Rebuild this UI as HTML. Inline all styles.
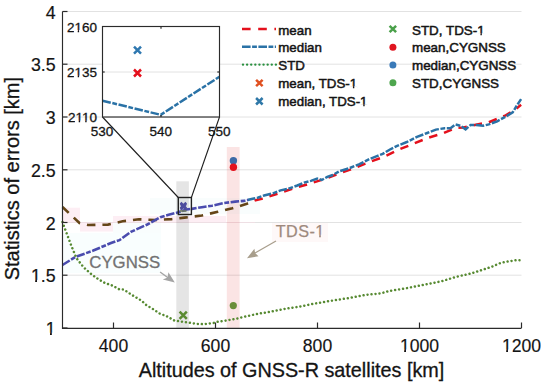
<!DOCTYPE html>
<html><head><meta charset="utf-8"><style>
html,body{margin:0;padding:0;background:#fff;width:550px;height:391px;overflow:hidden}
svg{display:block}
text{font-family:"Liberation Sans",sans-serif}
</style></head><body>
<svg width="550" height="391" viewBox="0 0 550 391">
<defs><clipPath id="cl"><rect x="0" y="0" width="254" height="391"/></clipPath><clipPath id="cr"><rect x="254" y="0" width="300" height="391"/></clipPath><clipPath id="ml"><rect x="0" y="0" width="248" height="391"/></clipPath><clipPath id="mr"><rect x="248" y="0" width="300" height="391"/></clipPath></defs>
<rect x="63" y="207.7" width="17" height="14.6" fill="#fdeef4"/>
<rect x="80" y="222" width="33" height="9.5" fill="#fdeef4"/>
<rect x="113" y="216" width="113" height="6" fill="#fdeef4"/>
<rect x="113" y="222" width="48" height="11" fill="#f9fdfd"/>
<rect x="63" y="233" width="98" height="40" fill="#f9fefe"/>
<rect x="150" y="198" width="110" height="16" fill="#f9fdfd"/>
<rect x="272" y="223" width="56" height="19" fill="#fef8f8"/>
<line x1="62.5" y1="275.2" x2="521.5" y2="275.2" stroke="#e2e2e2" stroke-width="1"/>
<line x1="62.5" y1="222.5" x2="521.5" y2="222.5" stroke="#e2e2e2" stroke-width="1"/>
<line x1="62.5" y1="169.8" x2="521.5" y2="169.8" stroke="#e2e2e2" stroke-width="1"/>
<line x1="62.5" y1="117.0" x2="521.5" y2="117.0" stroke="#e2e2e2" stroke-width="1"/>
<line x1="62.5" y1="64.2" x2="521.5" y2="64.2" stroke="#e2e2e2" stroke-width="1"/>
<line x1="62.5" y1="11.5" x2="521.5" y2="11.5" stroke="#e2e2e2" stroke-width="1"/>
<line x1="62.5" y1="222.5" x2="255" y2="222.5" stroke="#eedfe4" stroke-width="1"/>
<rect x="176.3" y="181.3" width="12.6" height="146.7" fill="#000" fill-opacity="0.1"/>
<rect x="226.8" y="147" width="12.8" height="181" fill="#dc2828" fill-opacity="0.125"/>
<g clip-path="url(#cl)"><polyline points="62.5,207.0 79.5,223.0 88.0,225.0 108.0,224.6 122.7,221.3 139.0,219.3 155.5,220.0 171.8,219.1 184.4,217.6 201.8,215.5 217.8,211.8 232.4,208.2 246.9,203.8 255.6,200.2 262.8,198.6 278.1,193.5 295.5,187.7 308.2,184.1 324.5,179.1 339.1,173.5 353.6,168.5 369.6,161.9 384.2,156.8 399.5,149.3 414.1,143.5 428.6,137.6 443.2,133.3 456.3,127.7 463.4,127.5 474.7,125.0 488.8,122.3 505.7,115.3 514.1,110.3 521.1,104.7" fill="none" stroke="#654618" stroke-width="2.6" stroke-dasharray="8.5 7"/></g>
<g clip-path="url(#cr)"><polyline points="62.5,207.0 79.5,223.0 88.0,225.0 108.0,224.6 122.7,221.3 139.0,219.3 155.5,220.0 171.8,219.1 184.4,217.6 201.8,215.5 217.8,211.8 232.4,208.2 246.9,203.8 255.6,200.2 262.8,198.6 278.1,193.5 295.5,187.7 308.2,184.1 324.5,179.1 339.1,173.5 353.6,168.5 369.6,161.9 384.2,156.8 399.5,149.3 414.1,143.5 428.6,137.6 443.2,133.3 456.3,127.7 463.4,127.5 474.7,125.0 488.8,122.3 505.7,115.3 514.1,110.3 521.1,104.7" fill="none" stroke="#e4101c" stroke-width="2.5" stroke-dasharray="8.5 7"/></g>
<g clip-path="url(#ml)"><polyline points="62.5,265.0 75.3,257.0 92.7,250.8 111.0,243.0 119.4,240.2 130.9,231.9 147.3,224.5 160.4,217.2 168.6,214.7 178.4,212.3 186.4,209.5 191.6,208.9 201.8,207.2 212.0,205.7 223.6,203.1 235.3,201.6 244.0,200.9 252.7,198.7 257.7,197.7 264.1,195.5 273.0,193.3 280.6,190.4 288.3,188.8 297.3,185.5 303.6,182.7 310.9,180.9 317.3,178.6 321.8,180.0 327.3,176.8 332.7,175.0 339.1,171.4 349.3,168.2 359.5,164.1 369.6,159.0 376.9,156.1 382.7,153.9 390.0,149.5 396.6,146.1 406.8,142.0 417.0,136.9 427.2,133.0 435.9,129.6 444.6,128.2 450.5,128.2 455.5,124.5 460.6,125.8 465.6,129.3 470.5,125.1 476.1,125.1 483.1,125.8 488.8,124.4 497.2,121.3 505.7,116.7 512.7,112.4 516.9,105.4 521.1,99.1" fill="none" stroke="#4a4cae" stroke-width="2.6" stroke-dasharray="8.5 1.6 4.8 1.6"/></g>
<g clip-path="url(#mr)"><polyline points="62.5,265.0 75.3,257.0 92.7,250.8 111.0,243.0 119.4,240.2 130.9,231.9 147.3,224.5 160.4,217.2 168.6,214.7 178.4,212.3 186.4,209.5 191.6,208.9 201.8,207.2 212.0,205.7 223.6,203.1 235.3,201.6 244.0,200.9 252.7,198.7 257.7,197.7 264.1,195.5 273.0,193.3 280.6,190.4 288.3,188.8 297.3,185.5 303.6,182.7 310.9,180.9 317.3,178.6 321.8,180.0 327.3,176.8 332.7,175.0 339.1,171.4 349.3,168.2 359.5,164.1 369.6,159.0 376.9,156.1 382.7,153.9 390.0,149.5 396.6,146.1 406.8,142.0 417.0,136.9 427.2,133.0 435.9,129.6 444.6,128.2 450.5,128.2 455.5,124.5 460.6,125.8 465.6,129.3 470.5,125.1 476.1,125.1 483.1,125.8 488.8,124.4 497.2,121.3 505.7,116.7 512.7,112.4 516.9,105.4 521.1,99.1" fill="none" stroke="#2a72a6" stroke-width="2.5" stroke-dasharray="8.5 1.6 4.8 1.6"/></g>
<polyline points="62.5,222.0 64.0,226.3 71.3,245.7 76.4,258.0 83.5,267.2 91.6,274.4 97.6,278.7 104.7,282.9 111.8,285.3 119.5,289.4 123.8,289.6 133.6,296.0 141.3,300.5 146.0,304.8 153.2,309.2 159.7,313.5 166.8,316.3 174.5,320.6 182.1,321.7 189.7,322.8 197.4,323.9 203.9,324.2 213.6,322.9 217.5,321.8 225.1,320.7 237.1,318.5 243.6,316.9 256.5,314.1 269.5,311.9 284.1,309.0 298.6,306.8 313.2,303.9 332.2,300.6 348.2,298.2 366.4,294.8 380.9,293.4 388.2,291.2 407.2,288.1 426.8,284.2 441.4,281.3 455.9,276.9 470.5,273.6 481.5,270.1 492.9,266.3 500.5,263.0 508.2,261.4 516.9,260.1 520.5,260.3" fill="none" stroke="#578a32" stroke-width="2.5" stroke-linecap="round" stroke-dasharray="0.01 4.0"/>
<path d="M180.6,202.7L186.2,208.3M180.6,208.3L186.2,202.7" stroke="#4e4e9e" stroke-width="2.4" fill="none"/>
<path d="M180.6,204.0L186.2,209.6M180.6,209.6L186.2,204.0" stroke="#4e4e9e" stroke-width="2.2" fill="none"/>
<rect x="180" y="210.2" width="6.5" height="1.6" fill="#6f7a62"/>
<path d="M179.6,311.6L186.8,318.8M179.6,318.8L186.8,311.6" stroke="#5b8a32" stroke-width="2.6" fill="none"/>
<circle cx="233.4" cy="160.8" r="3.7" fill="#3d6aa6"/>
<circle cx="233.4" cy="167.3" r="3.7" fill="#e4101c"/>
<circle cx="233.3" cy="305.6" r="3.6" fill="#6b8e3a"/>
<rect x="178.3" y="197.5" width="13.1" height="17" fill="none" stroke="#222" stroke-width="1.4"/>
<line x1="102.5" y1="117" x2="178.3" y2="197.5" stroke="#1e1e1e" stroke-width="1.1"/>
<line x1="219.5" y1="117" x2="191.4" y2="197.5" stroke="#1e1e1e" stroke-width="1.1"/>
<path d="M62.5,11.5V328.4H521.5" fill="none" stroke="#2b2b2b" stroke-width="1.15"/>
<line x1="62.5" y1="328.0" x2="67.5" y2="328.0" stroke="#2b2b2b" stroke-width="1.2"/>
<line x1="62.5" y1="275.2" x2="67.5" y2="275.2" stroke="#2b2b2b" stroke-width="1.2"/>
<line x1="62.5" y1="222.5" x2="67.5" y2="222.5" stroke="#2b2b2b" stroke-width="1.2"/>
<line x1="62.5" y1="169.8" x2="67.5" y2="169.8" stroke="#2b2b2b" stroke-width="1.2"/>
<line x1="62.5" y1="117.0" x2="67.5" y2="117.0" stroke="#2b2b2b" stroke-width="1.2"/>
<line x1="62.5" y1="64.2" x2="67.5" y2="64.2" stroke="#2b2b2b" stroke-width="1.2"/>
<line x1="62.5" y1="11.5" x2="67.5" y2="11.5" stroke="#2b2b2b" stroke-width="1.2"/>
<line x1="113.5" y1="328" x2="113.5" y2="322.5" stroke="#2b2b2b" stroke-width="1.2"/>
<line x1="215.5" y1="328" x2="215.5" y2="322.5" stroke="#2b2b2b" stroke-width="1.2"/>
<line x1="317.5" y1="328" x2="317.5" y2="322.5" stroke="#2b2b2b" stroke-width="1.2"/>
<line x1="419.5" y1="328" x2="419.5" y2="322.5" stroke="#2b2b2b" stroke-width="1.2"/>
<line x1="521.5" y1="328" x2="521.5" y2="322.5" stroke="#2b2b2b" stroke-width="1.2"/>
<text x="55.6" y="335.0" font-size="17.8" text-anchor="end" fill="#141414" stroke="#141414" stroke-width="0.2" >1</text>
<text x="55.6" y="282.2" font-size="17.8" text-anchor="end" fill="#141414" stroke="#141414" stroke-width="0.2" >1.5</text>
<text x="55.6" y="229.5" font-size="17.8" text-anchor="end" fill="#141414" stroke="#141414" stroke-width="0.2" >2</text>
<text x="55.6" y="176.8" font-size="17.8" text-anchor="end" fill="#141414" stroke="#141414" stroke-width="0.2" >2.5</text>
<text x="55.6" y="124.0" font-size="17.8" text-anchor="end" fill="#141414" stroke="#141414" stroke-width="0.2" >3</text>
<text x="55.6" y="71.2" font-size="17.8" text-anchor="end" fill="#141414" stroke="#141414" stroke-width="0.2" >3.5</text>
<text x="55.6" y="18.5" font-size="17.8" text-anchor="end" fill="#141414" stroke="#141414" stroke-width="0.2" >4</text>
<text x="113.5" y="351.8" font-size="17.6" text-anchor="middle" fill="#141414" stroke="#141414" stroke-width="0.15" >400</text>
<text x="215.5" y="351.8" font-size="17.6" text-anchor="middle" fill="#141414" stroke="#141414" stroke-width="0.15" >600</text>
<text x="317.5" y="351.8" font-size="17.6" text-anchor="middle" fill="#141414" stroke="#141414" stroke-width="0.15" >800</text>
<text x="419.5" y="351.8" font-size="17.6" text-anchor="middle" fill="#141414" stroke="#141414" stroke-width="0.15" >1000</text>
<text x="521.5" y="351.8" font-size="17.6" text-anchor="middle" fill="#141414" stroke="#141414" stroke-width="0.15" >1200</text>
<text x="291.5" y="377.4" font-size="19.8" text-anchor="middle" fill="#141414" stroke="#141414" stroke-width="0.3" >Altitudes of GNSS-R satellites [km]</text>
<g transform="translate(18.6,178.6) rotate(-90)"><text x="0" y="0" font-size="20" text-anchor="middle" fill="#141414" stroke="#141414" stroke-width="0.3" >Statistics of errors [km]</text></g>
<text x="89.3" y="267.7" font-size="16.8" text-anchor="start" fill="#727272" stroke="#727272" stroke-width="0.3" >CYGNSS</text>
<line x1="160.1" y1="272" x2="168" y2="277.8" stroke="#a4a4a4" stroke-width="1.3"/>
<path d="M174.8,282.6 L162.8,279.6 L167.6,277.6 L168.4,272.2 Z" fill="#a4a4a4"/>
<text x="275.7" y="236.8" font-size="16.2" text-anchor="start" fill="#9e8a7e" stroke="#9e8a7e" stroke-width="0.25" letter-spacing="0.45">TDS-1</text>
<line x1="276" y1="241" x2="255" y2="253" stroke="#a89e8c" stroke-width="1.2"/>
<path d="M247,258.2 L254.4,248.8 L255.1,253.1 L258.5,256.2 Z" fill="#a89e8c"/>
<rect x="102.5" y="26.5" width="117.0" height="90.5" fill="#fff"/>
<line x1="102.5" y1="72" x2="219.5" y2="72" stroke="#e2e2e2" stroke-width="1"/>
<polyline points="102.5,100.7 160.7,114.8 219.5,76.7" fill="none" stroke="#2a72a6" stroke-width="2.5" stroke-dasharray="8.5 1.6 4.8 1.6"/>
<path d="M134.0,46.7L141.0,53.7M134.0,53.7L141.0,46.7" stroke="#2f78b0" stroke-width="2.5" fill="none"/>
<path d="M134.0,69.5L141.0,76.5M134.0,76.5L141.0,69.5" stroke="#e4101c" stroke-width="2.5" fill="none"/>
<rect x="102.5" y="26.5" width="117.0" height="90.5" fill="none" stroke="#2b2b2b" stroke-width="1.15"/>
<line x1="161" y1="117" x2="161" y2="115" stroke="#2b2b2b" stroke-width="1.2"/>
<line x1="102.5" y1="72" x2="104.7" y2="72" stroke="#2b2b2b" stroke-width="1.2"/>
<line x1="161" y1="26.5" x2="161" y2="28.7" stroke="#2b2b2b" stroke-width="1.2"/>
<line x1="219.5" y1="72" x2="217.3" y2="72" stroke="#2b2b2b" stroke-width="1.2"/>
<text x="97" y="31.8" font-size="13.5" text-anchor="end" fill="#141414" stroke="#141414" stroke-width="0.3" >2160</text>
<text x="97" y="77.4" font-size="13.5" text-anchor="end" fill="#141414" stroke="#141414" stroke-width="0.3" >2135</text>
<text x="97" y="122.4" font-size="13.5" text-anchor="end" fill="#141414" stroke="#141414" stroke-width="0.3" >2110</text>
<text x="102" y="135.8" font-size="13.5" text-anchor="middle" fill="#141414" stroke="#141414" stroke-width="0.3" >530</text>
<text x="160.8" y="135.8" font-size="13.5" text-anchor="middle" fill="#141414" stroke="#141414" stroke-width="0.3" >540</text>
<text x="219.2" y="135.8" font-size="13.5" text-anchor="middle" fill="#141414" stroke="#141414" stroke-width="0.3" >550</text>
<line x1="242" y1="28.9" x2="276" y2="28.9" stroke="#e4101c" stroke-width="2.5" stroke-dasharray="8.6 7.6"/>
<line x1="242" y1="46.7" x2="276" y2="46.7" stroke="#2a72a6" stroke-width="2.4" stroke-dasharray="8.6 1.5 4.8 1.5"/>
<line x1="243" y1="64.6" x2="276" y2="64.6" stroke="#2a9040" stroke-width="2.4" stroke-linecap="round" stroke-dasharray="0.01 4.1"/>
<path d="M256.1,79.8L262.6,86.2M256.1,86.2L262.6,79.8" stroke="#e05020" stroke-width="2.5" fill="none"/>
<path d="M256.1,98.0L262.6,104.5M256.1,104.5L262.6,98.0" stroke="#2f78a8" stroke-width="2.5" fill="none"/>
<text x="278.3" y="34.5" font-size="13.3" text-anchor="start" fill="#141414" stroke="#141414" stroke-width="0.5" >mean</text>
<text x="278.3" y="52.199999999999996" font-size="13.3" text-anchor="start" fill="#141414" stroke="#141414" stroke-width="0.5" >median</text>
<text x="278.3" y="70.1" font-size="13.3" text-anchor="start" fill="#141414" stroke="#141414" stroke-width="0.5" >STD</text>
<text x="278.3" y="88.0" font-size="13.3" text-anchor="start" fill="#141414" stroke="#141414" stroke-width="0.5" >mean, TDS-1</text>
<text x="278.3" y="106.1" font-size="13.3" text-anchor="start" fill="#141414" stroke="#141414" stroke-width="0.5" >median, TDS-1</text>
<path d="M389.6,25.8L396.1,32.2M389.6,32.2L396.1,25.8" stroke="#4aa04a" stroke-width="2.5" fill="none"/>
<circle cx="392.9" cy="47.3" r="3.5" fill="#e01520"/>
<circle cx="392.9" cy="64.9" r="3.5" fill="#3a7ab8"/>
<circle cx="392.9" cy="82.8" r="3.5" fill="#4ea64e"/>
<text x="412" y="34.9" font-size="13.4" text-anchor="start" fill="#141414" stroke="#141414" stroke-width="0.5" >STD, TDS-1</text>
<text x="412" y="52.199999999999996" font-size="13.4" text-anchor="start" fill="#141414" stroke="#141414" stroke-width="0.5" >mean,CYGNSS</text>
<text x="412" y="70.0" font-size="13.4" text-anchor="start" fill="#141414" stroke="#141414" stroke-width="0.5" >median,CYGNSS</text>
<text x="412" y="87.8" font-size="13.4" text-anchor="start" fill="#141414" stroke="#141414" stroke-width="0.5" >STD,CYGNSS</text>
<rect x="45.18" y="332.69" width="4.81" height="4.27" fill="#fff"/>
<rect x="51.85" y="332.69" width="4.45" height="4.27" fill="#fff"/>
<rect x="30.35" y="279.89" width="4.81" height="4.27" fill="#fff"/>
<rect x="37.02" y="279.89" width="4.45" height="4.27" fill="#fff"/>
<rect x="399.40" y="349.51" width="4.75" height="4.22" fill="#fff"/>
<rect x="406.00" y="349.51" width="4.40" height="4.22" fill="#fff"/>
<rect x="501.40" y="349.51" width="4.75" height="4.22" fill="#fff"/>
<rect x="508.00" y="349.51" width="4.40" height="4.22" fill="#fff"/>
<rect x="314.78" y="234.69" width="4.37" height="3.89" fill="#fef8f8"/>
<rect x="320.85" y="234.69" width="4.05" height="3.89" fill="#fef8f8"/>
<rect x="74.05" y="30.04" width="3.65" height="3.24" fill="#fff"/>
<rect x="79.11" y="30.04" width="3.38" height="3.24" fill="#fff"/>
<rect x="74.05" y="75.65" width="3.65" height="3.24" fill="#fff"/>
<rect x="79.11" y="75.65" width="3.38" height="3.24" fill="#fff"/>
<rect x="75.06" y="120.65" width="3.65" height="3.24" fill="#fff"/>
<rect x="80.13" y="120.65" width="3.38" height="3.24" fill="#fff"/>
<rect x="81.56" y="120.65" width="3.65" height="3.24" fill="#fff"/>
<rect x="86.63" y="120.65" width="3.38" height="3.24" fill="#fff"/>
<rect x="349.32" y="86.27" width="3.59" height="3.19" fill="#fff"/>
<rect x="354.31" y="86.27" width="3.33" height="3.19" fill="#fff"/>
<rect x="359.67" y="104.37" width="3.59" height="3.19" fill="#fff"/>
<rect x="364.65" y="104.37" width="3.33" height="3.19" fill="#fff"/>
<rect x="476.82" y="33.16" width="3.62" height="3.22" fill="#fff"/>
<rect x="481.84" y="33.16" width="3.35" height="3.22" fill="#fff"/>
</svg>
</body></html>
